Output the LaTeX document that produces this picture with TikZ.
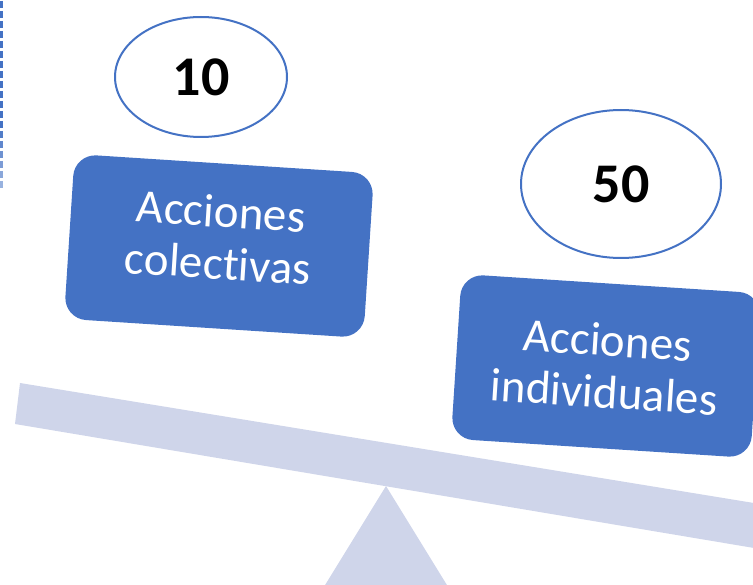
\documentclass[tikz,border=0pt]{standalone}
\usepackage{fontspec}
\setmainfont{Carlito}[Ligatures={NoCommon,NoContextual}]
\usepackage{xcolor}
\usetikzlibrary{shapes.geometric}
\definecolor{azul}{HTML}{4472C4}
\definecolor{lila}{HTML}{CFD5EA}

\begin{document}
\begin{tikzpicture}[x=1pt, y=-1pt,
    accion/.style={rectangle, rounded corners=22pt, fill=azul, text=white, minimum width=300pt, minimum height=165pt, align=center, rotate=-3.7, font=\fontsize{47}{52}\selectfont},
    cifra/.style={ellipse, draw=azul, line width=2pt, fill=white, font=\fontsize{56}{60}\selectfont\bfseries}]
    \useasboundingbox (0,0) rectangle (753,585);
    \clip (0,0) rectangle (753,585);

    % linea punteada del borde
    \foreach \k in {0,...,18}
        \draw[azul, line width=2.6pt, opacity={min(1,1.9-0.075*\k)}] (1.3,\k*10+1) -- (1.3,\k*10+8);

    % balanza
    \fill[lila] (322,590) -- (386,486) -- (450,590) -- cycle;
    \fill[lila] (20,383) -- (760,504) -- (760,549) -- (15,424) -- cycle;

    \node[accion, text depth=18pt] (colectivas) at (219,246) {Acciones\\colectivas};
    \node[accion] (individuales) at (606,366) {Acciones\\individuales};

    \node[cifra, minimum width=172pt, minimum height=120pt] (diez) at (201,77) {10};
    \node[cifra, minimum width=200pt, minimum height=148pt] (cincuenta) at (621,184) {50};
\end{tikzpicture}
\end{document}
